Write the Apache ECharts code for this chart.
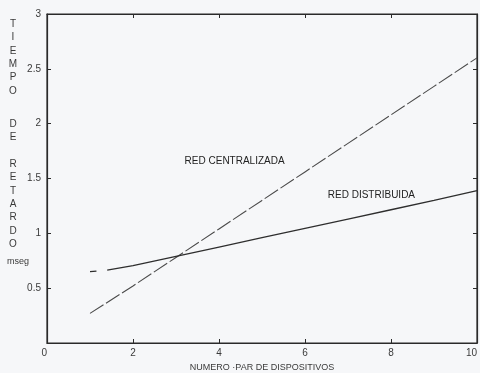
<!DOCTYPE html>
<html>
<head>
<meta charset="utf-8">
<script src="https://cdn.jsdelivr.net/npm/echarts@6/dist/echarts.min.js"></script>
<style>
html,body{margin:0;padding:0;background:#f6f7f9;}
#c{width:480px;height:373px;}
</style>
</head>
<body>
<div id="c"></div>
<script>
// Data
const xCentral = [1, 2, 3, 4, 5, 6, 7, 8, 9, 10];
const yCentral = [0.27, 0.52, 0.78, 1.04, 1.30, 1.56, 1.82, 2.08, 2.34, 2.60];
const xDistrib = [1, 1.15, null, 1.4, 2, 3, 4, 5, 6, 7, 8, 9, 10];
const yDistrib = [0.65, 0.655, null, 0.665, 0.705, 0.79, 0.875, 0.96, 1.045, 1.13, 1.215, 1.30, 1.39];
const xTicks = [0, 2, 4, 6, 8, 10];
const yTicks = [0, 0.5, 1, 1.5, 2, 2.5, 3];
const labelCentral = 'RED CENTRALIZADA';
const labelDistrib = 'RED DISTRIBUIDA';
const xName = 'NUMERO ·PAR DE DISPOSITIVOS';
const yNameGroups = ['TIEMPO', 'DE', 'RETARDO'];
const yUnit = 'mseg';

const chart = echarts.init(document.getElementById('c'), null, {renderer: 'canvas'});
const font = '"Liberation Sans", Arial, sans-serif';
const txt = '#3a3a3a';
const axisC = '#2a2a2a';

const pairs = (xs, ys) => xs.map((x, i) => x === null ? [null, null] : [x, ys[i]]);

// vertical letter title
const graphics = [];
const groupStarts = [24, 124, 164];
const step = 13.4;
yNameGroups.forEach((g, gi) => {
  g.split('').forEach((ch, i) => {
    graphics.push({
      type: 'text',
      x: 13, y: groupStarts[gi] + i * step,
      style: {text: ch, fill: txt, font: '10px ' + font, textAlign: 'center', textVerticalAlign: 'middle'}
    });
  });
});
graphics.push({
  type: 'text', x: 7, y: 262,
  style: {text: yUnit, fill: txt, font: '9px ' + font, textAlign: 'left', textVerticalAlign: 'middle'}
});

const tickLen = 4;
const axLine = () => ({show: true, onZero: false, lineStyle: {color: axisC, width: 1.2}});
const axTick = () => ({show: true, inside: true, length: tickLen, lineStyle: {color: axisC, width: 1}});
chart.setOption({
  backgroundColor: '#f6f7f9',
  animation: false,
  grid: {left: 47, right: 3, top: 14, bottom: 30, containLabel: false, outerBoundsMode: 'none',
         show: true, borderColor: axisC, borderWidth: 1.2, backgroundColor: 'transparent'},
  xAxis: [{
    type: 'value', min: 0, max: 10, interval: 2,
    name: xName, nameLocation: 'middle', nameGap: 18,
    nameTextStyle: {color: txt, fontSize: 9, fontFamily: font},
    axisLine: axLine(), axisTick: axTick(),
    axisLabel: {color: txt, fontSize: 10, fontFamily: font, margin: 5, alignMaxLabel: 'right', alignMinLabel: 'right'},
    splitLine: {show: false}
  }, {
    type: 'value', min: 0, max: 10, interval: 2, position: 'top', show: true,
    axisLine: axLine(), axisTick: axTick(),
    axisLabel: {show: false}, splitLine: {show: false}
  }],
  yAxis: [{
    type: 'value', min: 0, max: 3, interval: 0.5,
    axisLine: axLine(), axisTick: axTick(),
    axisLabel: {color: txt, fontSize: 10, fontFamily: font, margin: 6, showMinLabel: false},
    splitLine: {show: false}
  }, {
    type: 'value', min: 0, max: 3, interval: 0.5, position: 'right', show: true,
    axisLine: axLine(), axisTick: axTick(),
    axisLabel: {show: false}, splitLine: {show: false}
  }],
  graphic: graphics,
  series: [{
    name: labelCentral, type: 'line', xAxisIndex: 0, yAxisIndex: 0,
    data: pairs(xCentral, yCentral), showSymbol: false, symbol: 'none',
    lineStyle: {color: '#4a4a4a', width: 1.1, type: [16, 3]}
  }, {
    name: labelDistrib, type: 'line', xAxisIndex: 0, yAxisIndex: 0,
    data: pairs(xDistrib, yDistrib), showSymbol: false, symbol: 'none', connectNulls: false,
    lineStyle: {color: '#2e2e2e', width: 1.3}
  }, {
    type: 'line', xAxisIndex: 1, yAxisIndex: 1, data: [[0, 0], [10, 3]], silent: true,
    showSymbol: false, symbol: 'none', lineStyle: {opacity: 0}
  }]
});

// series annotations placed through the axes' scales
const annot = [[labelCentral, 3.2, 1.66], [labelDistrib, 6.53, 1.35]];
annot.forEach(([t, x, y]) => {
  const p = chart.convertToPixel({xAxisIndex: 0, yAxisIndex: 0}, [x, y]);
  graphics.push({
    type: 'text', x: p[0], y: p[1],
    style: {text: t, fill: '#222', font: '10px ' + font, textAlign: 'left', textVerticalAlign: 'middle'}
  });
});
chart.setOption({graphic: graphics});
</script>
</body>
</html>
